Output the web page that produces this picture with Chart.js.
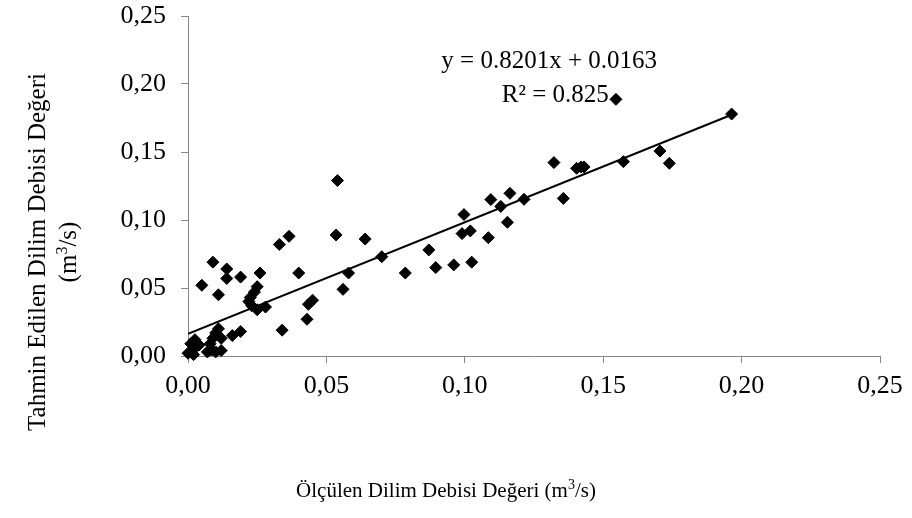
<!DOCTYPE html>
<html>
<head>
<meta charset="utf-8">
<title>Dilim debisi</title>
<script src="https://cdn.jsdelivr.net/npm/chart.js@4/dist/chart.umd.min.js"></script>
<style>
  html, body { margin: 0; padding: 0; background: #fff; }
  #c { display: block; }
</style>
</head>
<body>
<canvas id="c" width="912" height="518"></canvas>
<script>
// measured vs. estimated slice discharge (m3/s)
var measured = [
    0.000, 0.001, 0.002, 0.003, 0.001, 0.004, 0.0025, 0.011, 0.010, 0.009,
    0.008, 0.012, 0.0085, 0.010, 0.012, 0.007, 0.016, 0.019,
    0.005, 0.009, 0.014, 0.014, 0.011, 0.019, 0.026, 0.033, 0.0365, 0.040,
    0.025, 0.024, 0.0225, 0.022, 0.023, 0.025, 0.028,
    0.034, 0.043, 0.045, 0.0435,
    0.054, 0.0535, 0.064, 0.070, 0.058, 0.056, 0.0785, 0.087, 0.0895, 0.096,
    0.1025, 0.0997, 0.102, 0.099, 0.1085, 0.1094, 0.113, 0.1163, 0.1154, 0.1214,
    0.1322, 0.1356, 0.1404, 0.142, 0.1431, 0.1573, 0.1546, 0.1705, 0.1739, 0.1964
];
var predicted = [
    0.002, 0.003, 0.001, 0.007, 0.009, 0.008, 0.012, 0.020, 0.017, 0.013,
    0.009, 0.013, 0.0044, 0.003, 0.004, 0.003, 0.015, 0.018,
    0.052, 0.069, 0.064, 0.057, 0.045, 0.058, 0.061, 0.082, 0.088, 0.061,
    0.051, 0.047, 0.043, 0.040, 0.037, 0.034, 0.036,
    0.019, 0.027, 0.041, 0.038,
    0.129, 0.089, 0.086, 0.073, 0.061, 0.049, 0.061, 0.078, 0.065, 0.067,
    0.069, 0.104, 0.092, 0.090, 0.087, 0.115, 0.110, 0.1196, 0.0983, 0.1152,
    0.1422, 0.1159, 0.138, 0.139, 0.139, 0.1429, 0.1887, 0.1507, 0.1417, 0.1779
];

// linear trend as reported on the chart
var slope = 0.8201;
var intercept = 0.0163;
var rSquared = 0.825;

var axisTicks = [0, 0.05, 0.10, 0.15, 0.20, 0.25];

var SERIF = "'Liberation Serif', 'Times New Roman', serif";
var AXIS_GREY = '#868686';

var points = measured.map(function (m, i) {
    return { x: m, y: predicted[i] };
});

var xMin = Math.min.apply(null, measured);
var xMax = Math.max.apply(null, measured);
var trend = [
    { x: xMin, y: slope * xMin + intercept },
    { x: xMax, y: slope * xMax + intercept }
];

function fmt(v) {
    return v.toFixed(2).replace('.', ',');
}

// text with an optional raised part, e.g. m3 -> m + superscript 3
function drawRich(ctx, parts, size, x, y) {
    var widths = parts.map(function (p) {
        ctx.font = (p.sup ? Math.round(size * 0.65) : size) + 'px ' + SERIF;
        return ctx.measureText(p.t).width;
    });
    var total = widths.reduce(function (a, b) { return a + b; }, 0);
    var cx = x - total / 2;
    ctx.textAlign = 'left';
    ctx.textBaseline = 'alphabetic';
    parts.forEach(function (p, i) {
        ctx.font = (p.sup ? Math.round(size * 0.65) : size) + 'px ' + SERIF;
        ctx.fillText(p.t, cx, p.sup ? y - size * 0.38 : y);
        cx += widths[i];
    });
}

var labelsPlugin = {
    id: 'labels',
    afterDraw: function (chart) {
        var ctx = chart.ctx;
        var sx = chart.scales.x, sy = chart.scales.y;
        ctx.save();
        ctx.fillStyle = '#000';

        // trendline equation
        ctx.font = '25px ' + SERIF;
        ctx.textAlign = 'center';
        ctx.textBaseline = 'alphabetic';
        var ex = sx.getPixelForValue(0.1305);
        ctx.fillText('y = ' + slope.toFixed(4) + 'x + ' + intercept.toFixed(4), ex, sy.getPixelForValue(0.2118));
        ctx.fillText('R\u00B2 = ' + rSquared.toFixed(3), ex + 6, sy.getPixelForValue(0.1868));

        // x axis title
        drawRich(ctx, [{ t: 'Ölçülen Dilim Debisi Değeri (m' }, { t: '3', sup: true }, { t: '/s)' }], 21, 446, 497);

        // y axis title, two lines rotated
        ctx.translate(0, 252);
        ctx.rotate(-Math.PI / 2);
        ctx.font = '25px ' + SERIF;
        ctx.textAlign = 'center';
        ctx.fillText('Tahmin Edilen Dilim Debisi Değeri', 0, 45);
        drawRich(ctx, [{ t: '(m' }, { t: '3', sup: true }, { t: '/s)' }], 25, 0, 76);
        ctx.restore();
    }
};

// plot box edges are set by layout padding alone, not by tick label overhang
function noOverhang(s) {
    s.paddingTop = 0;
    s.paddingBottom = 0;
    s.paddingLeft = 0;
    s.paddingRight = 0;
}

new Chart(document.getElementById('c'), {
    type: 'scatter',
    data: {
        datasets: [{
            data: points,
            pointStyle: 'rectRot',
            pointRadius: 6,
            pointHoverRadius: 6,
            backgroundColor: '#000',
            borderColor: '#000',
            borderWidth: 1,
            clip: false,
            order: 1
        }, {
            type: 'line',
            data: trend,
            borderColor: '#000',
            borderWidth: 2,
            pointRadius: 0,
            fill: false,
            order: 2
        }]
    },
    options: {
        responsive: false,
        animation: false,
        events: [],
        layout: { padding: { top: 16, right: 32, left: 0, bottom: 0 } },
        plugins: { legend: { display: false }, tooltip: { enabled: false } },
        scales: {
            x: {
                type: 'linear',
                min: 0,
                max: 0.25,
                afterBuildTicks: function (s) { s.ticks = axisTicks.map(function (v) { return { value: v }; }); },
                afterFit: function (s) { s.height = 162; noOverhang(s); },
                ticks: {
                    color: '#000',
                    font: { family: SERIF, size: 26 },
                    padding: 8,
                    callback: fmt
                },
                grid: { drawOnChartArea: false, drawTicks: true, tickLength: 7, color: AXIS_GREY },
                border: { color: AXIS_GREY, width: 1 }
            },
            y: {
                type: 'linear',
                min: 0,
                max: 0.25,
                afterBuildTicks: function (s) { s.ticks = axisTicks.map(function (v) { return { value: v }; }); },
                afterFit: function (s) { s.width = 188; noOverhang(s); },
                ticks: {
                    color: '#000',
                    font: { family: SERIF, size: 26 },
                    padding: 15,
                    callback: fmt
                },
                grid: { drawOnChartArea: false, drawTicks: true, tickLength: 7, color: AXIS_GREY },
                border: { color: AXIS_GREY, width: 1 }
            }
        }
    },
    plugins: [labelsPlugin]
});
</script>
</body>
</html>
